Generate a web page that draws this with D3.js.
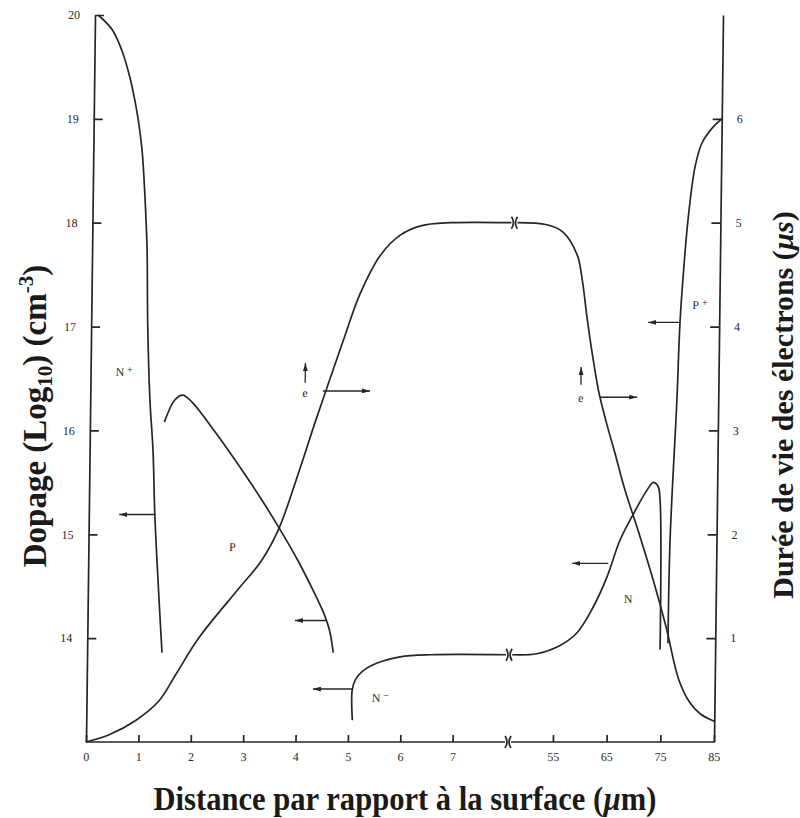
<!DOCTYPE html>
<html>
<head>
<meta charset="utf-8">
<script src="https://cdnjs.cloudflare.com/ajax/libs/d3/7.8.5/d3.min.js"></script>
<style>
    body { margin: 0; background: #fff; }
    svg { display: block; }
    .curve { fill: none; stroke: #262626; stroke-width: 1.7; }
    .axis path, .axis line, .axis-line { stroke: #262626; stroke-width: 1.7; fill: none; }
    .axis text { font-family: "Liberation Serif", serif; font-size: 12px; fill: #2a2a2a; }
    .lbl { font-family: "Liberation Serif", serif; font-size: 12px; fill: #2a2a2a; }
    .title { font-family: "Liberation Serif", serif; font-weight: bold; fill: #1a1a1a; }
</style>
</head>
<body>
<div id="chart"></div>
<script>
// x axis is broken: 0..8 then 47..85
var xLabels = [0, 1, 2, 3, 4, 5, 6, 7, 55, 65, 75, 85];
var dopTicks = [14, 15, 16, 17, 18, 19, 20];
var lifeTicks = [1, 2, 3, 4, 5, 6];

// doping, log10(cm-3)
var nPlus = [[0.06, 20], [0.33, 19.86], [0.52, 19.66], [0.68, 19.4], [0.78, 19.18], [0.85, 18.99],
    [0.93, 18.7], [0.98, 18.38], [1.02, 18.05], [1.05, 17.74], [1.08, 17.01], [1.14, 16.29],
    [1.21, 15.81], [1.26, 15.19], [1.34, 14.53], [1.43, 13.86]];
var pLayer = [[1.42, 16.08], [1.61, 16.29], [1.76, 16.34], [1.93, 16.28], [2.4, 15.98], [2.87, 15.65],
    [3.3, 15.33], [3.65, 15.05], [4.0, 14.75], [4.3, 14.46], [4.5, 14.25], [4.62, 14.08], [4.7, 13.86]];
var nMinus = [[5.08, 13.21], [5.07, 13.5], [5.13, 13.6], [5.26, 13.68], [5.54, 13.76], [5.98, 13.82],
    [6.56, 13.84], [8, 13.84]];
var nLayer = [[47.2, 13.84], [51.8, 13.85], [56.1, 13.93], [59.2, 14.05], [62.2, 14.3], [64.7, 14.59],
    [67.0, 14.94], [69.4, 15.19], [72.0, 15.43], [73.1, 15.5], [74.0, 15.46], [74.4, 15.33], [74.75, 13.89]];
var pPlus = [[76.2, 13.95], [76.35, 14.94], [77.3, 16.29], [77.7, 17.04], [78.2, 17.5], [78.96, 18.03],
    [80.15, 18.54], [81.4, 18.77], [83.4, 18.92], [85, 19.0]];

// electron lifetime, µs
var lifeFront = [[0, 0], [0.44, 0.07], [0.95, 0.21], [1.39, 0.4], [1.71, 0.66], [2.14, 1.01], [2.9, 1.49],
    [3.3, 1.74], [3.62, 2.04], [4.0, 2.6], [4.3, 3.08], [4.82, 3.87], [5.13, 4.32], [5.51, 4.69],
    [5.88, 4.88], [6.27, 4.97], [6.84, 5.0], [8, 5.0]];
var lifeBack = [[47.2, 5.0], [52.7, 4.98], [55.7, 4.91], [58.4, 4.69], [59.4, 4.45], [60.4, 4.08],
    [61.5, 3.72], [62.7, 3.38], [64.2, 3.08], [65.9, 2.78], [67.7, 2.45], [70.8, 1.97], [73.3, 1.56],
    [75.8, 1.11], [78.3, 0.6], [80.4, 0.38], [82.4, 0.27], [85, 0.2]];

// arrows telling which axis a curve belongs to
var arrows = [
    {side: "dop", y: 15.19, from: 1.26, to: 0.58},
    {side: "dop", y: 14.17, from: 4.56, to: 3.96},
    {side: "dop", y: 13.51, from: 5.07, to: 4.32},
    {side: "dop", y: 14.72, from: 64.9, to: 58.2},
    {side: "dop", y: 17.04, from: 77.7, to: 71.75},
    {side: "life", y: 3.38, from: 4.44, to: 5.34},
    {side: "life", y: 3.32, from: 63.0, to: 69.9}
];
var regionLabels = [
    {name: "N", sup: "+", x: 0.64, y: 16.56},
    {name: "P", sup: "", x: 2.75, y: 14.88},
    {name: "N", sup: "\u2212", x: 5.61, y: 13.43},
    {name: "N", sup: "", x: 68.7, y: 14.38},
    {name: "P", sup: "+", x: 81.4, y: 17.21}
];
var electronMarks = [
    {x: 4.10, top: 3.65, bottom: 3.46, e: 3.36},
    {x: 59.4, top: 3.61, bottom: 3.44, e: 3.31}
];

var width = 800, height = 818;
var plotBottom = 742, plotTop = 15;

var x = d3.scaleLinear().domain([0, 8, 47.2, 85]).range([86, 505, 511, 714]);
var yDop = d3.scaleLinear().domain([13, 20]).range([plotBottom, plotTop]);
var yLife = d3.scaleLinear().domain([0, 7]).range([plotBottom, plotTop]);

var svg = d3.select("#chart").append("svg")
    .attr("width", width)
    .attr("height", height);

svg.append("defs").append("marker")
    .attr("id", "head")
    .attr("viewBox", "0 0 10 6")
    .attr("refX", 10).attr("refY", 3)
    .attr("markerUnits", "userSpaceOnUse")
    .attr("markerWidth", 8).attr("markerHeight", 5)
    .attr("orient", "auto")
    .append("path")
    .attr("d", "M0,0L10,3L0,6z")
    .attr("fill", "#262626");

// the scanned original leans a little to the right
var k = 0.0124;
var plot = svg.append("g")
    .attr("transform", "translate(" + (k * plotBottom) + ",0) skewX(" + (-Math.atan(k) * 180 / Math.PI) + ")");

plot.append("g")
    .attr("class", "axis")
    .attr("transform", "translate(" + x(0) + ",0)")
    .call(d3.axisLeft(yDop).tickValues(dopTicks).tickFormat(d3.format("d"))
        .tickSize(-9).tickSizeOuter(0).tickPadding(15));

plot.append("g")
    .attr("class", "axis")
    .attr("transform", "translate(" + x(85) + ",0)")
    .call(d3.axisRight(yLife).tickValues(lifeTicks).tickFormat(d3.format("d"))
        .tickSize(-9).tickSizeOuter(0).tickPadding(15));

var xAxis = plot.append("g")
    .attr("class", "axis")
    .attr("transform", "translate(0," + plotBottom + ")")
    .call(d3.axisBottom(x).tickValues(xLabels).tickFormat(d3.format("d")).tickSize(-7).tickPadding(10));
xAxis.select(".domain").remove();

// broken bottom axis
[[0, 8], [47.2, 85]].forEach(function(seg) {
    plot.append("line")
        .attr("class", "axis-line")
        .attr("x1", x(seg[0])).attr("x2", x(seg[1]))
        .attr("y1", plotBottom).attr("y2", plotBottom);
});

var breakMark = function(px, py, dir) {
    plot.append("path")
        .attr("class", "curve")
        .attr("stroke-width", 1.4)
        .attr("d", "M" + px + "," + (py - 6) + "Q" + (px + 4 * dir) + "," + py + " " + px + "," + (py + 6));
};
[plotBottom, yLife(5), yDop(13.84)].forEach(function(py) {
    breakMark(x(8), py, 1);
    breakMark(x(47.2), py, -1);
});

var dopLine = d3.line()
    .x(function(d) { return x(d[0]); })
    .y(function(d) { return yDop(d[1]); })
    .curve(d3.curveCatmullRom.alpha(0.5));

var lifeLine = d3.line()
    .x(function(d) { return x(d[0]); })
    .y(function(d) { return yLife(d[1]); })
    .curve(d3.curveCatmullRom.alpha(0.5));

[nPlus, pLayer, nMinus, nLayer, pPlus].forEach(function(d) {
    plot.append("path").attr("class", "curve").attr("d", dopLine(d));
});
[lifeFront, lifeBack].forEach(function(d) {
    plot.append("path").attr("class", "curve").attr("d", lifeLine(d));
});

arrows.forEach(function(a) {
    var yy = a.side === "dop" ? yDop(a.y) : yLife(a.y);
    plot.append("line")
        .attr("x1", x(a.from)).attr("x2", x(a.to))
        .attr("y1", yy).attr("y2", yy)
        .attr("stroke", "#262626")
        .attr("stroke-width", 1.4)
        .attr("marker-end", "url(#head)");
});

regionLabels.forEach(function(r) {
    var t = plot.append("text")
        .attr("class", "lbl")
        .attr("x", x(r.x))
        .attr("y", yDop(r.y))
        .attr("dy", "0.35em")
        .attr("text-anchor", "middle")
        .text(r.name);
    if (r.sup) {
        t.append("tspan").attr("dx", 3).attr("dy", -3).attr("font-size", 10).text(r.sup);
    }
});

electronMarks.forEach(function(m) {
    plot.append("line")
        .attr("x1", x(m.x)).attr("x2", x(m.x))
        .attr("y1", yLife(m.bottom)).attr("y2", yLife(m.top))
        .attr("stroke", "#262626")
        .attr("stroke-width", 1.3)
        .attr("marker-end", "url(#head)");
    plot.append("text")
        .attr("class", "lbl")
        .attr("x", x(m.x))
        .attr("y", yLife(m.e))
        .attr("dy", "0.35em")
        .attr("text-anchor", "middle")
        .text("e");
});

// axis titles
var tLeft = svg.append("text")
    .attr("class", "title")
    .attr("font-size", 33)
    .attr("text-anchor", "middle")
    .attr("transform", "translate(46,416) rotate(-90)");
tLeft.append("tspan").text("Dopage (Log");
tLeft.append("tspan").attr("font-size", 21).attr("dy", 6).text("10");
tLeft.append("tspan").attr("dy", -6).text(") (cm");
tLeft.append("tspan").attr("font-size", 21).attr("dy", -13).text("-3");
tLeft.append("tspan").attr("dy", 13).text(")");

var tRight = svg.append("text")
    .attr("class", "title")
    .attr("font-size", 30)
    .attr("text-anchor", "middle")
    .attr("transform", "translate(793,405) rotate(-90)");
tRight.append("tspan").text("Durée de vie des électrons (");
tRight.append("tspan").attr("font-style", "italic").text("µs");
tRight.append("tspan").text(")");

var tBottom = svg.append("text")
    .attr("class", "title")
    .attr("font-size", 34)
    .attr("text-anchor", "middle")
    .attr("transform", "translate(405,810) scale(0.9,1)");
tBottom.append("tspan").text("Distance par rapport à la surface (");
tBottom.append("tspan").attr("font-style", "italic").text("µ");
tBottom.append("tspan").text("m)");
</script>
</body>
</html>
